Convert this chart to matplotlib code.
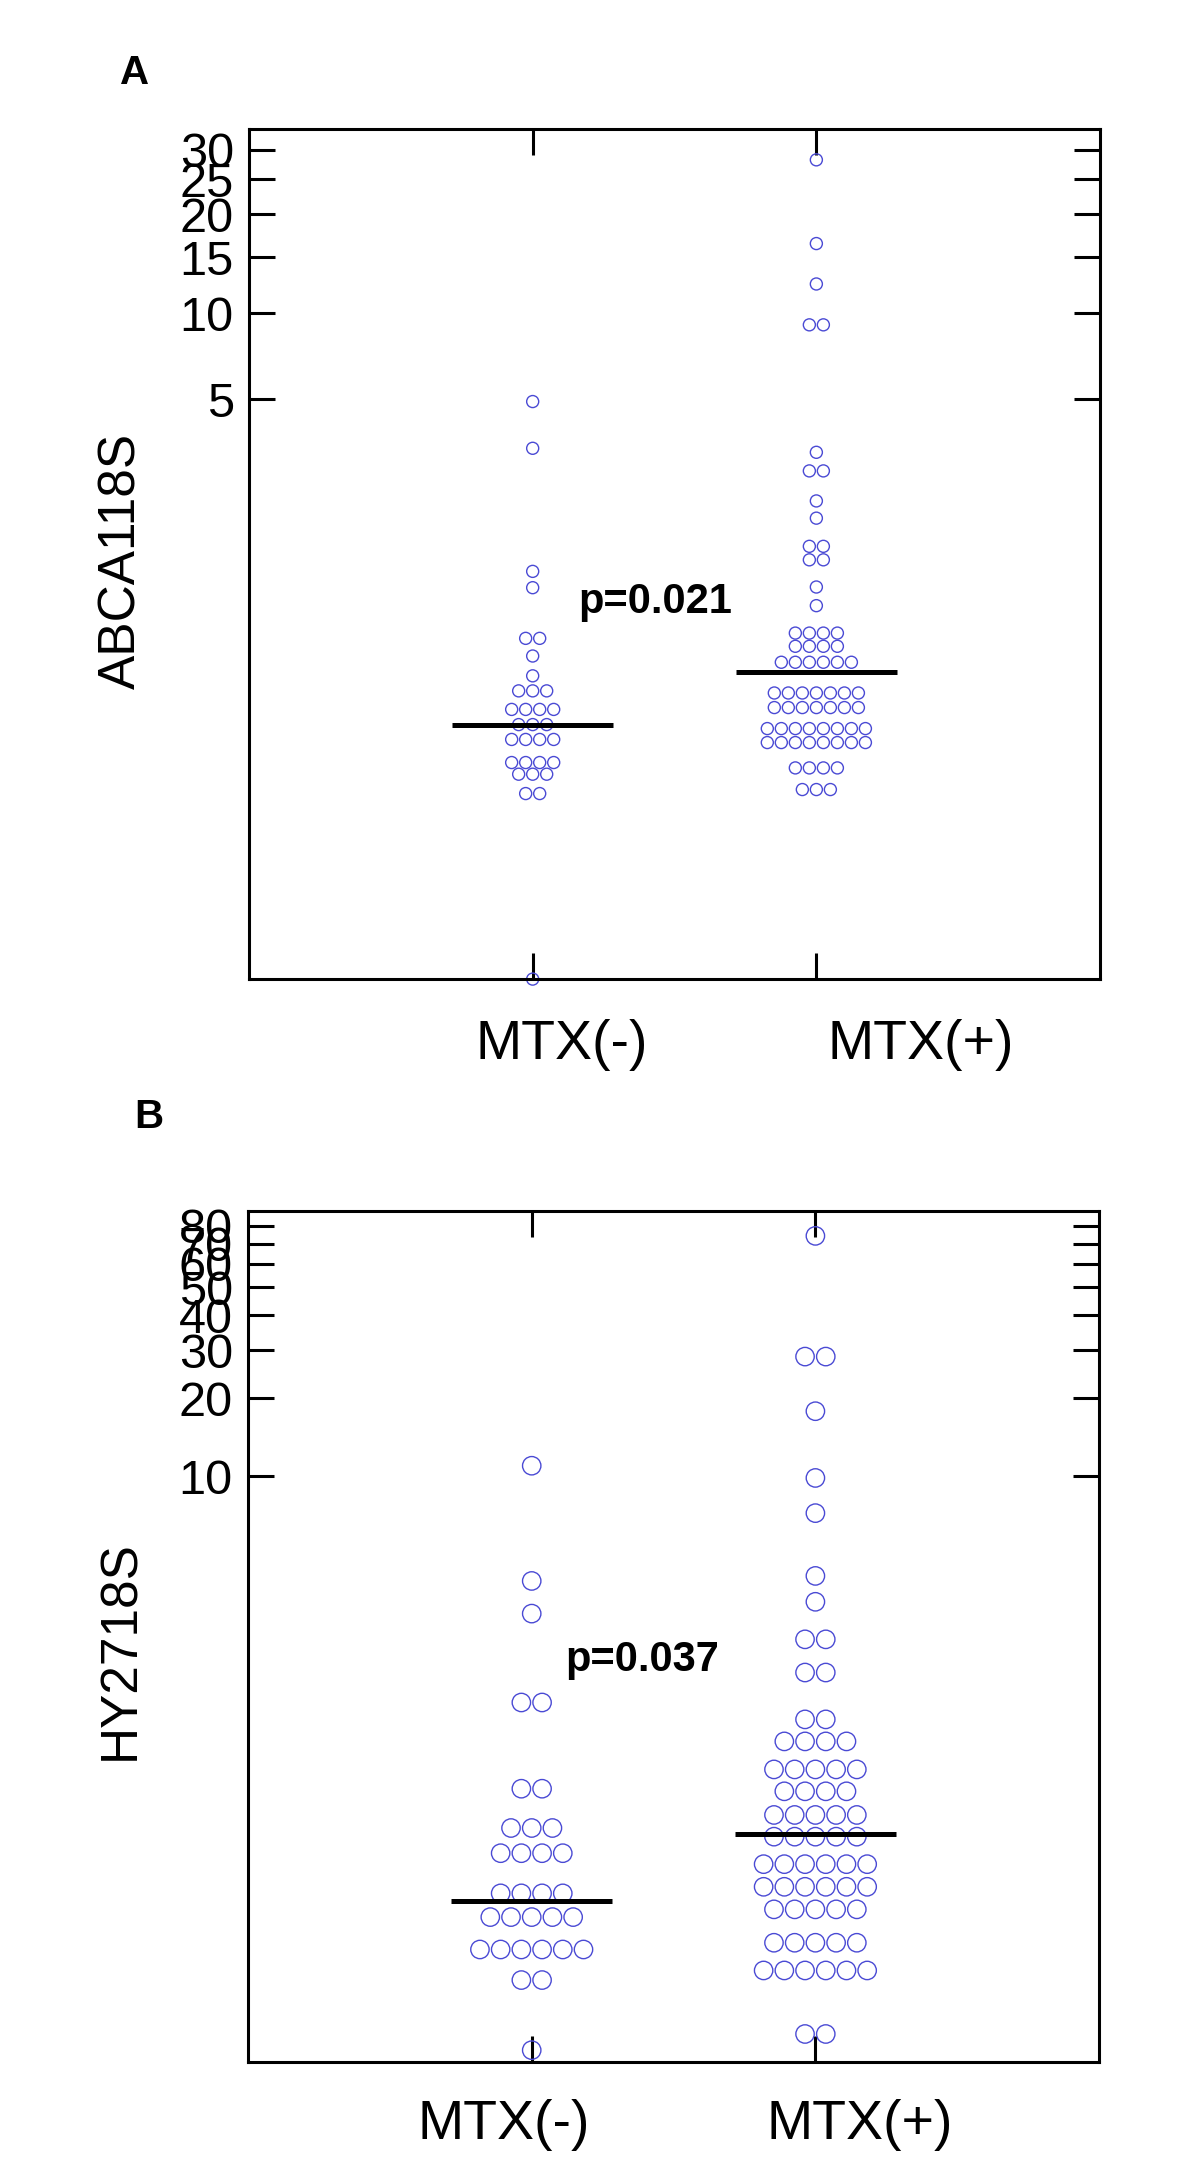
import numpy as np
import matplotlib.pyplot as plt

plt.rcParams['font.family'] = ['Liberation Sans', 'DejaVu Sans']

groups = ["MTX(-)", "MTX(+)"]

# panel A (ABCA118S): one entry per row of dots, with the number of dots in it
a_neg_vals = [4.91, 3.22, 0.861, 0.702, 0.351, 0.269, 0.196, 0.152, 0.109,
              0.0816, 0.0604, 0.0364, 0.0276, 0.0168, 0.0]
a_neg_counts = [1, 1, 1, 1, 2, 1, 1, 3, 4, 3, 4, 4, 3, 2, 1]
a_pos_vals = [28.2, 16.45, 12.4, 9.16, 3.10, 2.59, 1.91, 1.59, 1.16, 0.99, 0.708,
              0.555, 0.379, 0.312, 0.244, 0.1465, 0.1128, 0.0754, 0.0566,
              0.0321, 0.0187]
a_pos_counts = [1, 1, 1, 2, 1, 2, 1, 1, 2, 2, 1, 1, 4, 4, 6, 7, 7, 8, 8, 4, 3]
a_medians = [0.0816, 0.209]
a_ticks = [5, 10, 15, 20, 25, 30]

# panel B (HY2718S)
b_neg_vals = [11.0, 3.61, 2.57, 0.957, 0.331, 0.196, 0.138, 0.0768, 0.0534,
              0.0318, 0.0190, 0.00522]
b_neg_counts = [1, 1, 1, 2, 2, 3, 4, 4, 5, 6, 2, 1]
b_pos_vals = [74.2, 28.5, 17.9, 9.83, 7.06, 3.80, 2.91, 1.95, 1.35, 0.784, 0.601,
              0.424, 0.320, 0.234, 0.174, 0.118, 0.0847, 0.0602, 0.0355,
              0.0224, 0.00714]
b_pos_counts = [1, 2, 1, 1, 1, 1, 1, 2, 2, 2, 4, 5, 4, 5, 5, 6, 6, 5, 5, 6, 2]
b_medians = [0.0687, 0.180]
b_ticks = [10, 20, 30, 40, 50, 60, 70, 80]

dot_color = '#4a4ad4'


def power_scale(p):
    fwd = lambda v: np.power(np.clip(v, 0, None), p)
    inv = lambda v: np.power(np.clip(v, 0, None), 1.0 / p)
    return fwd, inv


def panel(ax, rows, medians, ticks, p, ylim, dot_s, spacing, ylabel, ptext,
          pxy, label_x, label_y):
    ax.set_yscale('function', functions=power_scale(p))
    for i, (vals, counts) in enumerate(rows):
        xc = i + 1
        for v, n in zip(vals, counts):
            xs = xc + (np.arange(n) - (n - 1) / 2) * spacing
            ax.scatter(xs, [v] * n, s=dot_s, facecolors='none',
                       edgecolors=dot_color, linewidths=1.0, clip_on=False,
                       zorder=2)
        ax.plot([xc - 0.283, xc + 0.283], [medians[i], medians[i]], color='black',
                lw=3.6, solid_capstyle='butt', zorder=3)
    ax.set_xlim(0, 3)
    ax.set_ylim(*ylim)
    ax.set_xticks([1, 2])
    ax.set_xticklabels([])
    ax.set_yticks(ticks)
    ax.set_yticklabels([str(t) for t in ticks])
    ax.yaxis.set_minor_locator(plt.NullLocator())
    ax.tick_params(axis='both', direction='in', length=18.7, width=2.2,
                   top=True, right=True, labelsize=35, pad=11)
    for s in ax.spines.values():
        s.set_linewidth(2.2)
    for lx, g in zip(label_x, groups):
        ax.text(lx, label_y, g, transform=ax.get_xaxis_transform(),
                ha='center', va='center', fontsize=40)
    ax.text(pxy[0], pxy[1], ptext, transform=ax.transAxes, ha='left',
            va='baseline', fontsize=30, fontweight='bold')


fig = plt.figure(figsize=(12, 21.7), dpi=100)
ax_a = fig.add_axes([0.2075, 0.5488, 0.7092, 0.3917])
ax_b = fig.add_axes([0.2067, 0.0498, 0.7092, 0.3922])

panel(ax_a, [(a_neg_vals, a_neg_counts), (a_pos_vals, a_pos_counts)], a_medians,
      a_ticks, 0.2, (0, 33.9), 75, 0.0494, "ABCA118S", "p=0.021",
      (0.3866, 0.4306), [1.103, 2.369], -0.0776)
panel(ax_b, [(b_neg_vals, b_neg_counts), (b_pos_vals, b_pos_counts)], b_medians,
      b_ticks, 0.1, (0.00413, 89.5), 175, 0.073, "HY2718S", "p=0.037",
      (0.3725, 0.4595), [0.902, 2.157], -0.074)

fig.text(0.1017, 0.7415, "ABCA118S", rotation=90, ha='center', va='center',
         fontsize=37)
fig.text(0.101, 0.2396, "HY2718S", rotation=90, ha='center', va='center',
         fontsize=37)
fig.text(0.1125, 0.9664, "A", ha='center', va='center', fontsize=29,
         fontweight='bold')
fig.text(0.124, 0.4853, "B", ha='center', va='center', fontsize=29,
         fontweight='bold')

fig.savefig("out.png", dpi=100)
